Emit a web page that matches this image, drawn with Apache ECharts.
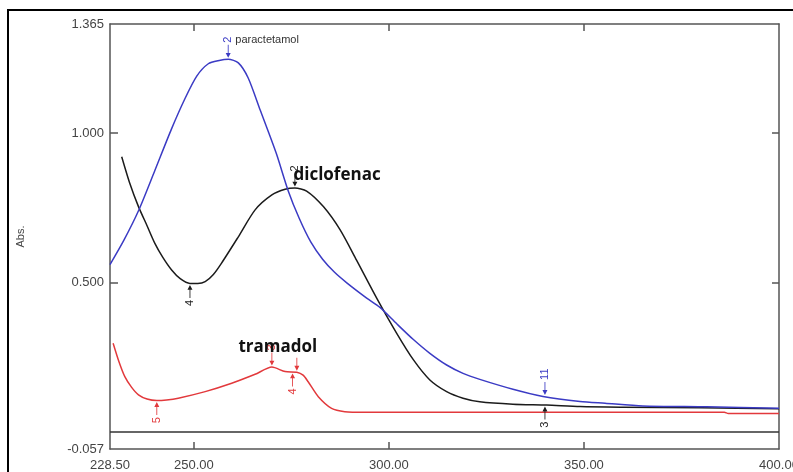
<!DOCTYPE html>
<html>
<head>
<meta charset="utf-8">
<script src="https://cdn.jsdelivr.net/npm/echarts@6/dist/echarts.min.js"></script>
<style>
html,body{margin:0;padding:0;background:#fff;}
#chart{width:793px;height:472px;}
</style>
</head>
<body>
<div id="chart"></div>
<script>
// ---- data ----
const xTickLabels = [228.5, 250, 300, 350, 400];
const xTicks = [250, 300, 350];
const yTickLabels = [-0.057, 0.5, 1.0, 1.365];
const yTicks = [0.5, 1.0];

const paraWl  = [228.5,232.0,235.8,240.0,244.3,247.7,250.7,253.7,256.5,258.8,261.4,263.9,267.0,271.1,274.1,277.0,280.0,283.0,286.0,289.2,294.3,297.7,302.0,306.2,310.5,314.8,319.0,323.3,331.8,339.5,349.0,355.4,365.1,381.5,400.0];
const paraAbs = [0.560,0.640,0.740,0.875,1.015,1.115,1.190,1.232,1.243,1.247,1.235,1.185,1.077,0.933,0.810,0.715,0.635,0.578,0.535,0.499,0.448,0.417,0.362,0.310,0.263,0.224,0.196,0.176,0.143,0.119,0.102,0.096,0.087,0.084,0.079];

const dicloWl  = [231.5,233.5,235.8,238.0,240.0,242.0,244.3,246.5,249.0,251.0,252.9,255.0,257.1,261.4,265.7,270.0,273.4,275.9,278.9,283.2,287.5,291.7,296.9,302.0,306.3,310.5,314.8,319.0,323.3,331.8,340.4,349.0,360.0,380.0,400.0];
const dicloAbs = [0.921,0.835,0.754,0.690,0.631,0.585,0.542,0.513,0.497,0.497,0.503,0.527,0.565,0.653,0.743,0.793,0.812,0.816,0.806,0.754,0.676,0.575,0.447,0.330,0.241,0.174,0.135,0.113,0.101,0.093,0.090,0.085,0.083,0.081,0.078];

const tramaWl  = [229.3,230.8,232.3,234.0,235.8,238.0,240.5,243.0,246.0,252.9,259.7,265.7,270.0,273.4,276.4,278.0,279.3,281.9,285.3,288.7,293.9,330.0,386.0,387.0,400.0];
const tramaAbs = [0.297,0.235,0.185,0.150,0.124,0.110,0.105,0.107,0.113,0.135,0.163,0.193,0.217,0.202,0.200,0.190,0.168,0.118,0.079,0.068,0.066,0.066,0.066,0.062,0.062];

// peak / valley picks: [wavelength, abs, label, kind]
const paraPicks  = [[258.8,1.247,'2','peak'],[340.0,0.119,'11','peak']];
const dicloPicks = [[275.9,0.816,'2','peak'],[249.0,0.497,'4','valley'],[340.0,0.090,'3','valley']];
const tramaPicks = [[240.5,0.105,'5','valley'],[270.0,0.217,'3','peak'],[276.4,0.200,'','peak'],[275.3,0.201,'4','valley']];

// curve names placed as text: [wavelength, abs, text]
const paraName  = [260.5, 1.311, 'paractetamol'];
const dicloName = [275.4, 0.860, 'diclofenac'];
const tramaName = [261.3, 0.285, 'tramadol'];

const BLUE = '#3b3bc4', BLACK = '#1b1b1b', RED = '#e2393c';

const zip = (a,b) => a.map((v,i)=>[v,b[i]]);
const ARROW_DOWN = 'path://M2.5,0 L3.5,0 L3.5,10 L6,10 L3,16 L0,10 L2.5,10 Z';
const ARROW_UP   = 'path://M3,0 L6,6 L3.5,6 L3.5,16 L2.5,16 L2.5,6 L0,6 Z';

function pickMarks(picks, color){
  return picks.map(p=>{
    const peak = p[3]==='peak';
    return {
      coord:[p[0],p[1]],
      symbol: peak?ARROW_DOWN:ARROW_UP,
      symbolSize:[5,13],
      symbolOffset:[0, peak?-8:8],
      itemStyle:{color:color},
      label:{
        show: p[2]!=='',
        formatter: p[2],
        position: peak?'top':'bottom',
        distance: 2,
        rotate: 90,
        align: peak?'left':'right',
        verticalAlign:'middle',
        color: color,
        fontSize: 11,
        fontFamily:'Liberation Sans, Arial, sans-serif'
      }
    };
  });
}
function nameMark(n, color, size, bold, family){
  return {
    coord:[n[0],n[1]],
    symbol:'circle', symbolSize:1,
    itemStyle:{color:'rgba(0,0,0,0)'},
    label:{show:true, formatter:n[2], position:'right', distance:0,
      align:'left', verticalAlign:'middle',
      color:color, fontSize:size, fontWeight:bold?'bold':'normal', fontFamily:family}
  };
}

const axisLineStyle = {color:'#555', width:1.5};
const chart = echarts.init(document.getElementById('chart'), null, {renderer:'canvas'});
chart.setOption({
  animation:false,
  backgroundColor:'#fff',
  grid:{left:110, right:14, top:24, bottom:23, show:false, containLabel:false, outerBoundsMode:'none'},
  graphic:[{type:'rect', shape:{x:8,y:10,width:800,height:480}, style:{fill:'none', stroke:'#000', lineWidth:2}, silent:true, z:-1}],
  xAxis:[
    {type:'value', min:228.5, max:400, position:'bottom',
     axisLine:{show:true, onZero:false, lineStyle:axisLineStyle},
     axisTick:{show:true, inside:true, length:7, customValues:xTicks, lineStyle:{color:'#555', width:1.5}},
     axisLabel:{show:true, customValues:xTickLabels, formatter:v=>Number(v).toFixed(2), color:'#444', fontSize:13, margin:10, fontFamily:'Liberation Sans, Arial, sans-serif', hideOverlap:false},
     splitLine:{show:false}},
    {type:'value', min:228.5, max:400, position:'top',
     axisLine:{show:true, onZero:false, lineStyle:axisLineStyle},
     axisTick:{show:true, inside:true, length:7, customValues:xTicks, lineStyle:{color:'#555', width:1.5}},
     axisLabel:{show:false}, splitLine:{show:false}}
  ],
  yAxis:[
    {type:'value', min:-0.057, max:1.365, position:'left',
     name:'Abs.', nameLocation:'middle', nameRotate:90, nameGap:84,
     nameTextStyle:{color:'#444', fontSize:11, fontFamily:'Liberation Sans, Arial, sans-serif'},
     axisLine:{show:true, onZero:false, lineStyle:axisLineStyle},
     axisTick:{show:true, inside:true, length:8, customValues:yTicks, lineStyle:{color:'#555', width:1.5}},
     axisLabel:{show:true, customValues:yTickLabels, formatter:v=>Number(v).toFixed(3), color:'#444', fontSize:13, margin:6, fontFamily:'Liberation Sans, Arial, sans-serif'},
     splitLine:{show:false}},
    {type:'value', min:-0.057, max:1.365, position:'right',
     axisLine:{show:true, onZero:false, lineStyle:axisLineStyle},
     axisTick:{show:true, inside:true, length:7, customValues:yTicks, lineStyle:{color:'#555', width:1.5}},
     axisLabel:{show:false}, splitLine:{show:false}}
  ],
  series:[
    {name:'tramadol', type:'line', data:zip(tramaWl,tramaAbs), showSymbol:false, smooth:0.25,
     lineStyle:{color:RED, width:1.5}, itemStyle:{color:RED}, z:3,
     markLine:{silent:true, symbol:'none', label:{show:false}, lineStyle:{color:'#333', width:1.5, type:'solid'}, data:[{yAxis:0}]},
     markPoint:{silent:true, data:pickMarks(tramaPicks,RED).concat([nameMark(tramaName,'#111',17,true,'Open Sans, sans-serif')])}},
    {name:'diclofenac', type:'line', data:zip(dicloWl,dicloAbs), showSymbol:false, smooth:0.25,
     lineStyle:{color:BLACK, width:1.5}, itemStyle:{color:BLACK}, z:4,
     markPoint:{silent:true, data:pickMarks(dicloPicks,BLACK).concat([nameMark(dicloName,'#111',17,true,'Open Sans, sans-serif')])}},
    {name:'paracetamol', type:'line', data:zip(paraWl,paraAbs), showSymbol:false, smooth:0.25,
     lineStyle:{color:BLUE, width:1.5}, itemStyle:{color:BLUE}, z:5,
     markPoint:{silent:true, data:pickMarks(paraPicks,BLUE).concat([nameMark(paraName,'#333',11,false,'Liberation Sans, Arial, sans-serif')])}}
  ]
});
</script>
</body>
</html>
